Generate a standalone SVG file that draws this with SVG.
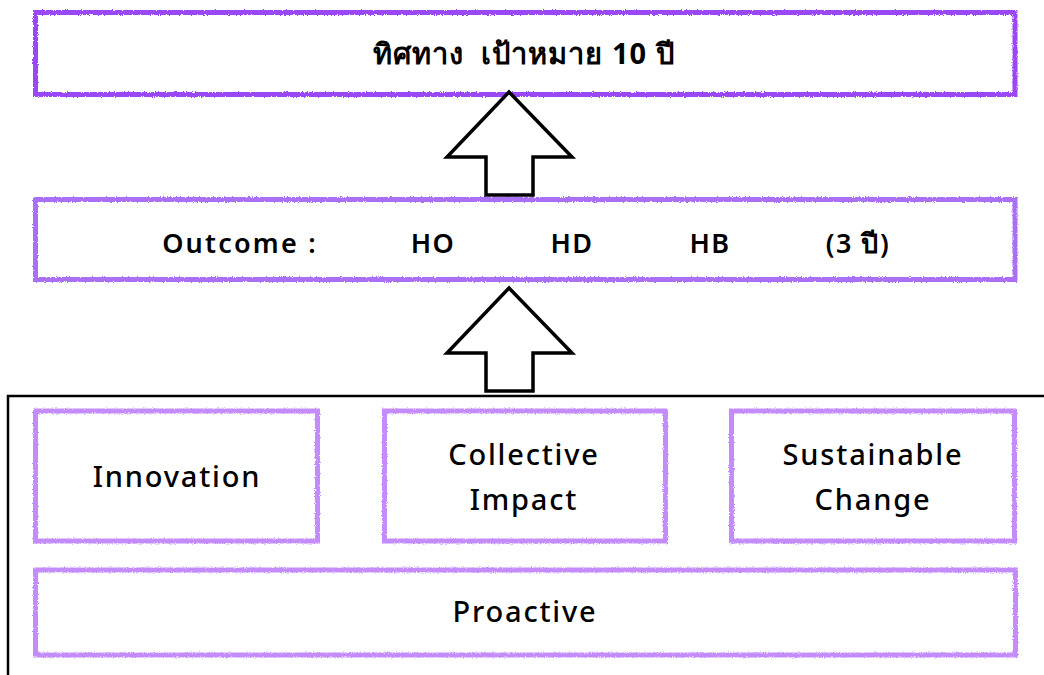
<svg xmlns="http://www.w3.org/2000/svg" width="1044" height="675" viewBox="0 0 1044 675">
  <defs>
    <filter id="chalk" x="-5%" y="-5%" width="110%" height="110%">
      <feTurbulence type="fractalNoise" baseFrequency="0.9" numOctaves="2" seed="3" result="n"/>
      <feDisplacementMap in="SourceGraphic" in2="n" scale="3" xChannelSelector="R" yChannelSelector="G"/>
    </filter>
  </defs>
  <style>
    .box { fill: none; stroke-width: 5; filter: url(#chalk); }
    .b1 { stroke: #9a46f6; }
    .b2 { stroke: #a96ff6; }
    .b3 { stroke: #c48cfb; }
    .arrow { fill: #ffffff; stroke: #000000; stroke-width: 3.5; stroke-linejoin: miter; }
    .frame { fill: none; stroke: #000000; stroke-width: 2.5; }
    text { font-family: "Noto Sans", "DejaVu Sans", sans-serif; fill: #000000; text-anchor: middle; }
    .t1 { font-size: 29px; font-weight: 700; letter-spacing: 1px; white-space: pre; }
    .t2 { font-size: 27px; font-weight: 600; letter-spacing: 1.5px; }
    .t2w { letter-spacing: 2.2px; }
    .t3 { font-size: 29px; font-weight: 500; letter-spacing: 1.8px; }
  </style>
  <rect class="frame" x="8" y="396" width="1100" height="400"/>
  <g id="goal">
    <rect class="box b1" x="35.5" y="12.5" width="979.5" height="82"/>
    <text class="t1" x="524" y="64" xml:space="preserve">ทิศทาง  เป้าหมาย 10 ปี</text>
  </g>
  <g id="outcome">
    <rect class="box b2" x="35.5" y="199.5" width="979.5" height="80"/>
    <text class="t2 t2w" x="240" y="253">Outcome :</text>
    <text class="t2" x="433" y="253">HO</text>
    <text class="t2" x="572" y="253">HD</text>
    <text class="t2" x="710" y="253">HB</text>
    <text class="t2" x="858" y="253">(3 ปี)</text>
  </g>
  <g id="innovation">
    <rect class="box b3" x="35.5" y="411" width="282" height="130"/>
    <text class="t3" x="177" y="487">Innovation</text>
  </g>
  <g id="collective">
    <rect class="box b3" x="384.5" y="411" width="281" height="130"/>
    <text class="t3" x="524" y="465">Collective</text>
    <text class="t3" x="524" y="510">Impact</text>
  </g>
  <g id="sustainable">
    <rect class="box b3" x="731.5" y="411" width="283" height="130"/>
    <text class="t3" x="873" y="465">Sustainable</text>
    <text class="t3" x="873" y="510">Change</text>
  </g>
  <g id="proactive">
    <rect class="box b3" x="35.5" y="570" width="980" height="85"/>
    <text class="t3" x="525" y="622">Proactive</text>
  </g>
  <g id="connectors">
    <polygon class="arrow" points="509,92 572,157 533,157 533,195 486,195 486,157 447,157"/>
    <polygon class="arrow" points="509,288 572,353 533,353 533,391 486,391 486,353 447,353"/>
  </g>
</svg>
